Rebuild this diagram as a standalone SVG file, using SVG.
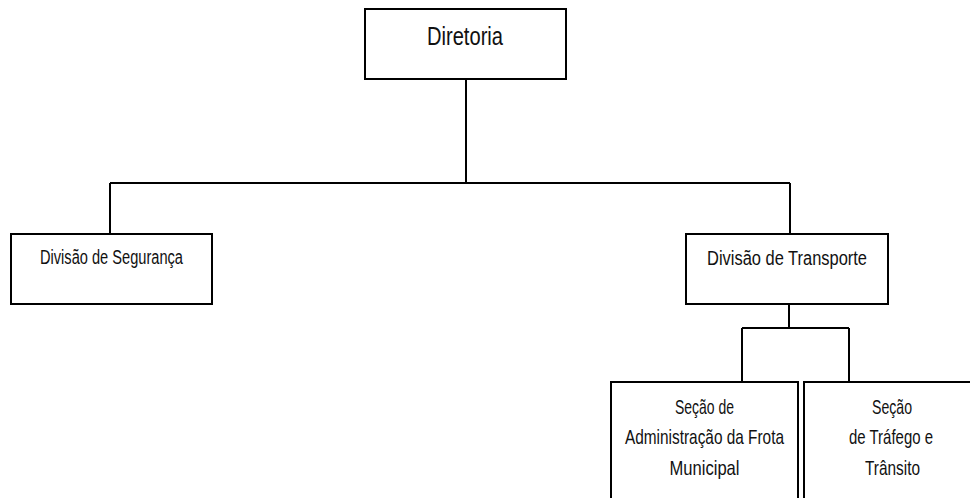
<svg xmlns="http://www.w3.org/2000/svg" width="970" height="498" viewBox="0 0 970 498">
<style>
.box{fill:#fff;stroke:#000;stroke-width:2}
.ln{fill:none;stroke:#000;stroke-width:2}
text{font-family:"Liberation Sans",Arial,sans-serif;fill:#111;text-anchor:middle}
.t1{font-size:25px}
.t2{font-size:19.5px}
.t3{font-size:21px}
</style>
<rect width="970" height="498" fill="#fff"/>
<g id="connectors">
<path class="ln" d="M466 79V183M110 183H790M110 183V234M790 183V234"/>
<path class="ln" d="M789 304V328M742 328H849M742 328V382M849 328V382"/>
</g>
<g id="diretoria">
<rect class="box" x="365" y="9" width="201" height="70"/>
<text class="t1" x="465" y="44.5" textLength="76" lengthAdjust="spacingAndGlyphs">Diretoria</text>
</g>
<g id="seguranca">
<rect class="box" x="11" y="234" width="201" height="70"/>
<text class="t2" x="111.5" y="264" textLength="143" lengthAdjust="spacingAndGlyphs">Divisão de Segurança</text>
</g>
<g id="transporte">
<rect class="box" x="686" y="234" width="202" height="70"/>
<text class="t2" x="787" y="265" textLength="160" lengthAdjust="spacingAndGlyphs">Divisão de Transporte</text>
</g>
<g id="frota">
<rect class="box" x="611" y="382" width="187" height="130"/>
<text class="t3" x="704.5" y="414" textLength="59" lengthAdjust="spacingAndGlyphs">Seção de</text>
<text class="t3" x="704.5" y="444" textLength="159" lengthAdjust="spacingAndGlyphs">Administração da Frota</text>
<text class="t3" x="704.5" y="475" textLength="70" lengthAdjust="spacingAndGlyphs">Municipal</text>
</g>
<g id="trafego">
<rect class="box" x="804" y="382" width="180" height="130"/>
<text class="t3" x="892" y="414" textLength="40" lengthAdjust="spacingAndGlyphs">Seção</text>
<text class="t3" x="891" y="444" textLength="84" lengthAdjust="spacingAndGlyphs">de Tráfego e</text>
<text class="t3" x="892.5" y="475" textLength="55" lengthAdjust="spacingAndGlyphs">Trânsito</text>
</g>
</svg>
